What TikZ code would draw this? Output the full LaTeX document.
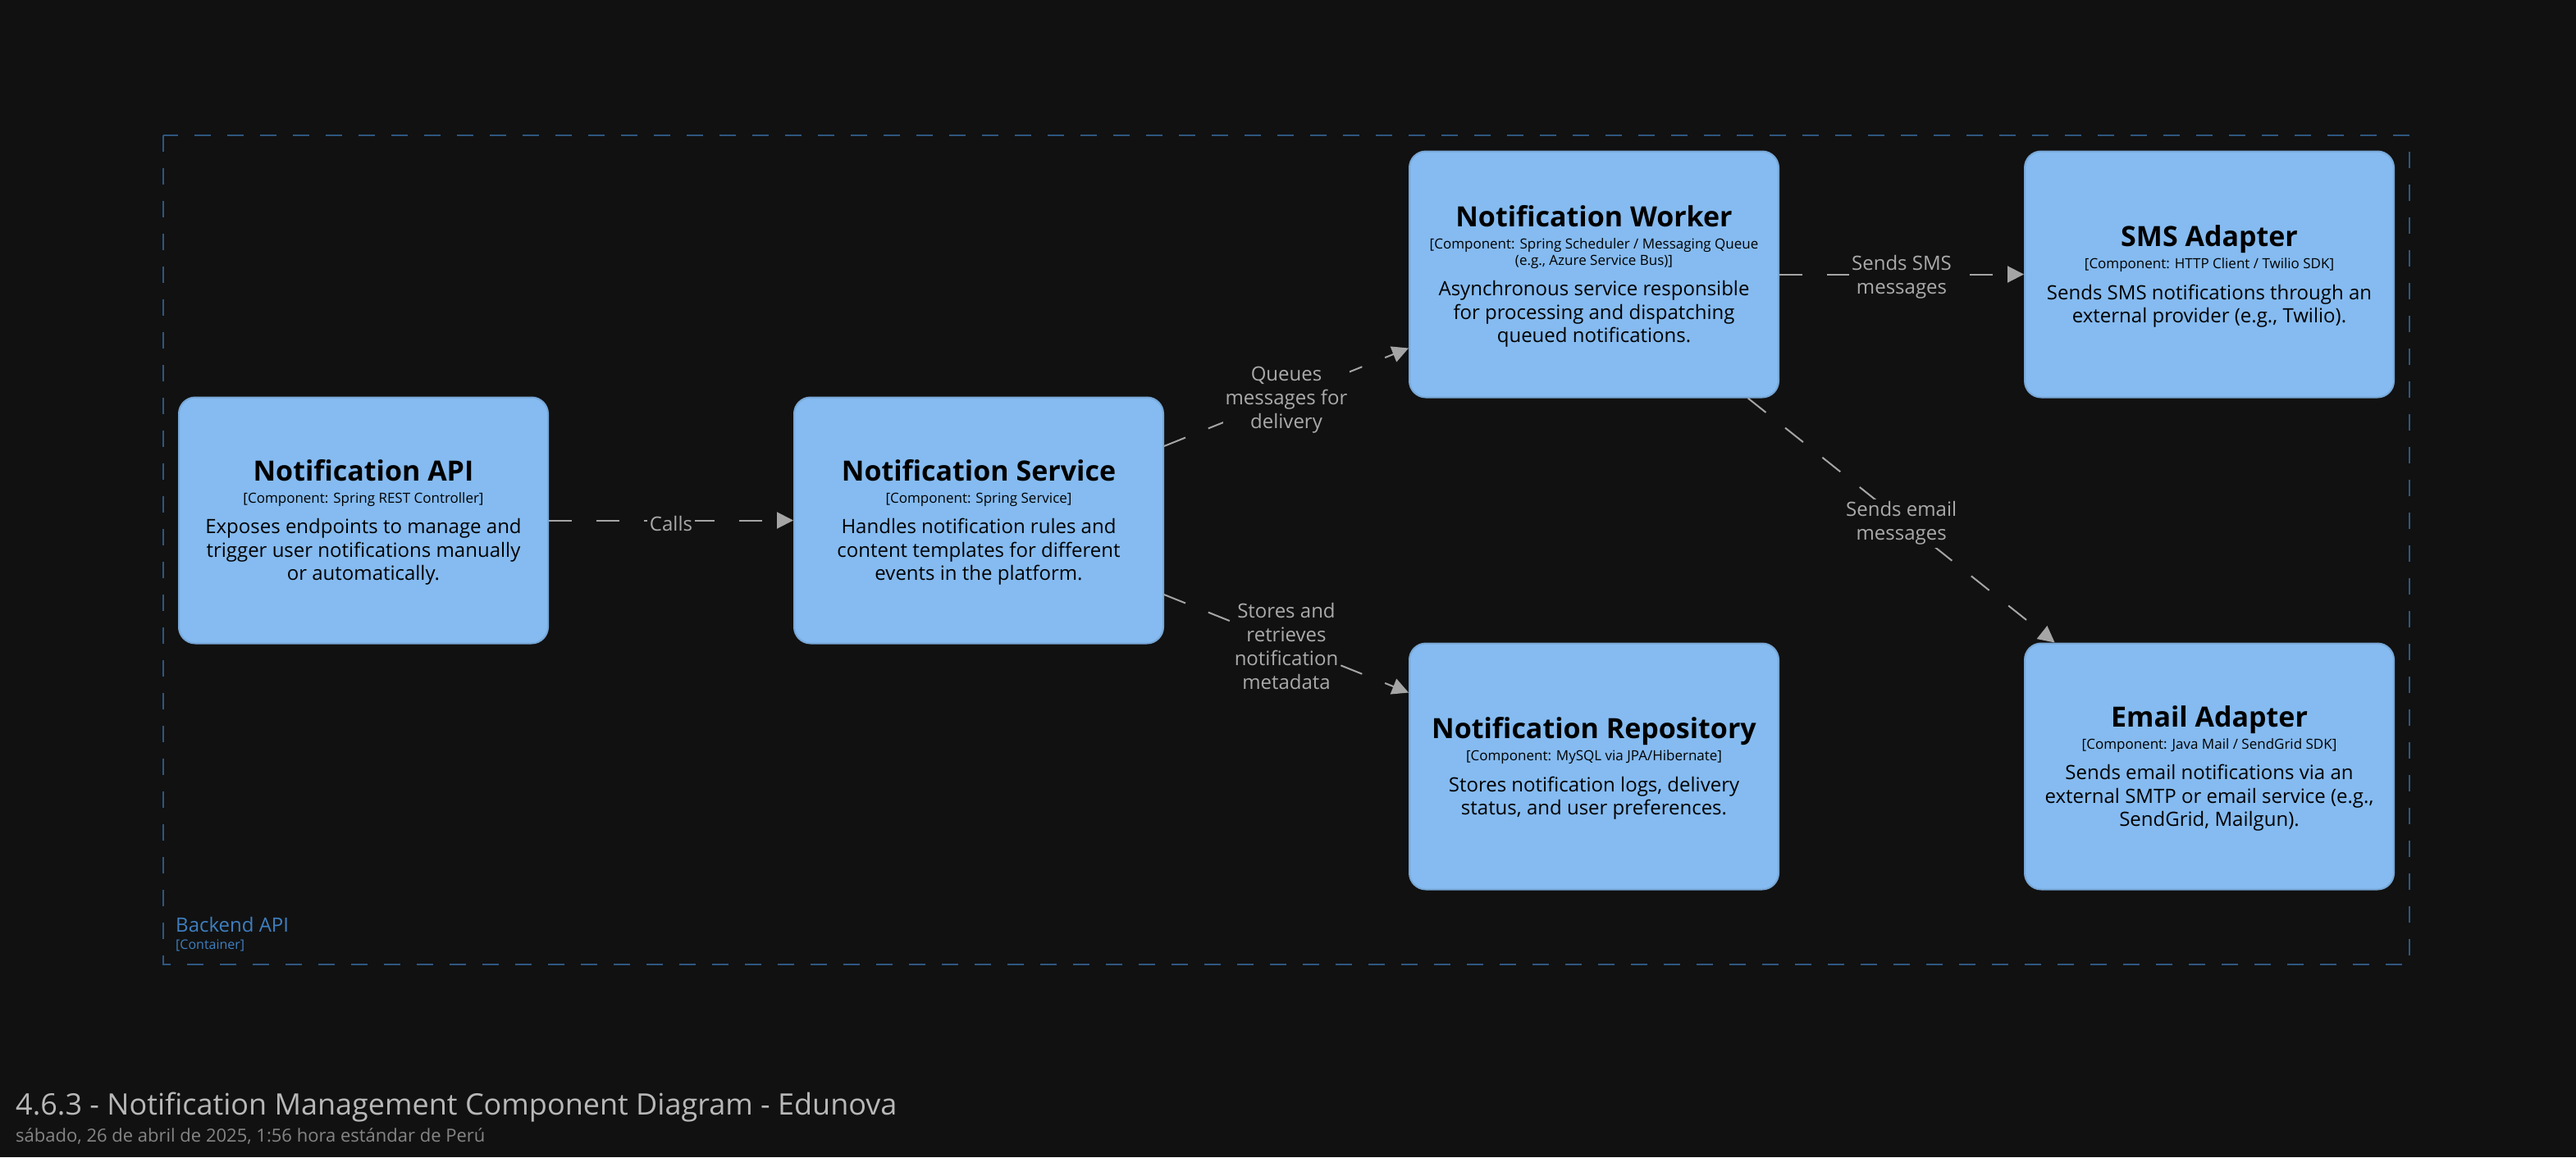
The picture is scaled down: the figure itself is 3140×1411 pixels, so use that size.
\documentclass[tikz,border=0pt]{standalone}
\usepackage{fontspec}
\setmainfont{Open Sans}
\usetikzlibrary{arrows.meta}
\definecolor{bg}{HTML}{111111}
\definecolor{boxfill}{HTML}{85BBF0}
\definecolor{boxline}{HTML}{78A8D8}
\definecolor{edgecol}{HTML}{A5A5A5}
\definecolor{edgetext}{HTML}{AAAAAA}
\definecolor{bnd}{HTML}{2E5780}
\definecolor{bndtext}{HTML}{3F7FC0}
\definecolor{titlecol}{HTML}{B8B8B8}
\definecolor{datecol}{HTML}{858585}
\begin{document}
\begin{tikzpicture}[x=1pt,y=-1pt,
 comp/.style={draw=boxline, line width=2pt, fill=boxfill, rounded corners=20pt, minimum width=450pt, minimum height=300pt, inner sep=0pt},
 ttl/.style={anchor=base, inner sep=0pt, font=\fontsize{34}{40}\selectfont\bfseries, text=black},
 techtxt/.style={anchor=base, inner sep=0pt, font=\fontsize{17}{20}\selectfont, text=black},
 dsc/.style={anchor=base, inner sep=0pt, font=\fontsize{24}{28.5}\selectfont, text=black},
 rel/.style={draw=edgecol, line width=2pt, dash pattern=on 28pt off 30pt, -{Triangle[length=20pt,width=20pt]}},
 rlab/.style={midway, yshift=-3.5pt, fill=bg, text=edgetext, align=center, inner sep=3pt, font=\fontsize{24}{29}\selectfont},
 plain/.style={anchor=base west, inner sep=0pt},
]
\fill[bg] (0,0) rectangle (3140,1411);
\useasboundingbox (0,0) rectangle (3140,1411);

% boundary
\draw[bnd, line width=2pt, dash pattern=on 20pt off 20pt] (199,165) rectangle (2937,1176);
\node[plain, text=bndtext, font=\fontsize{24}{28}\selectfont] (bndname) at (214,1136.7) {Backend API};
\node[plain, text=bndtext, font=\fontsize{16}{20}\selectfont] (bndtype) at (214,1157.7) {[Container]};

% boxes
\node[comp] (api) at (443,634.5) {};
\node[comp] (svc) at (1193,634.5) {};
\node[comp] (wrk) at (1943,334.5) {};
\node[comp] (sms) at (2693,334.5) {};
\node[comp] (repo) at (1943,934.5) {};
\node[comp] (mail) at (2693,934.5) {};

% API
\node[ttl] (api-t) at (443,586.3) {Notification API};
\node[techtxt] (api-s) at (443,613.3) {[Component: Spring REST Controller]};
\node[dsc] (api-d1) at (443,650.8) {Exposes endpoints to manage and};
\node[dsc] (api-d2) at (443,679.3) {trigger user notifications manually};
\node[dsc] (api-d3) at (443,707.8) {or automatically.};

% Service
\node[ttl] (svc-t) at (1193,586.3) {Notification Service};
\node[techtxt] (svc-s) at (1193,613.3) {[Component: Spring Service]};
\node[dsc] (svc-d1) at (1193,650.8) {Handles notification rules and};
\node[dsc] (svc-d2) at (1193,679.3) {content templates for different};
\node[dsc] (svc-d3) at (1193,707.8) {events in the platform.};

% Worker
\node[ttl] (wrk-t) at (1943,276.3) {Notification Worker};
\node[techtxt] (wrk-s1) at (1943,303.3) {[Component: Spring Scheduler / Messaging Queue};
\node[techtxt] (wrk-s2) at (1943,323.3) {(e.g., Azure Service Bus)]};
\node[dsc] (wrk-d1) at (1943,360.8) {Asynchronous service responsible};
\node[dsc] (wrk-d2) at (1943,389.3) {for processing and dispatching};
\node[dsc] (wrk-d3) at (1943,417.8) {queued notifications.};

% SMS
\node[ttl] (sms-t) at (2693,300.5) {SMS Adapter};
\node[techtxt] (sms-s) at (2693,327.5) {[Component: HTTP Client / Twilio SDK]};
\node[dsc] (sms-d1) at (2693,365) {Sends SMS notifications through an};
\node[dsc] (sms-d2) at (2693,393.5) {external provider (e.g., Twilio).};

% Repository
\node[ttl] (repo-t) at (1943,900.5) {Notification Repository};
\node[techtxt] (repo-s) at (1943,927.5) {[Component: MySQL via JPA/Hibernate]};
\node[dsc] (repo-d1) at (1943,965) {Stores notification logs, delivery};
\node[dsc] (repo-d2) at (1943,993.5) {status, and user preferences.};

% Email
\node[ttl] (mail-t) at (2693,886.3) {Email Adapter};
\node[techtxt] (mail-s) at (2693,913.3) {[Component: Java Mail / SendGrid SDK]};
\node[dsc] (mail-d1) at (2693,950.8) {Sends email notifications via an};
\node[dsc] (mail-d2) at (2693,979.3) {external SMTP or email service (e.g.,};
\node[dsc] (mail-d3) at (2693,1007.8) {SendGrid, Mailgun).};

% relationships
\draw[rel] (api) -- node[rlab] (l1) {Calls} (svc);
\draw[rel] (svc) -- node[rlab] (l2) {Queues\\messages for\\delivery} (wrk);
\draw[rel] (svc) -- node[rlab] (l3) {Stores and\\retrieves\\notification\\metadata} (repo);
\draw[rel] (wrk) -- node[rlab] (l4) {Sends SMS\\messages} (sms);
\draw[rel] (wrk) -- node[rlab] (l5) {Sends email\\messages} (mail);

% title
\node[plain, text=titlecol, font=\fontsize{36}{42}\selectfont] (title) at (19,1359) {4.6.3 - Notification Management Component Diagram - Edunova};
\node[plain, text=datecol, font=\fontsize{22}{26}\selectfont] (date) at (19,1392) {sábado, 26 de abril de 2025, 1:56 hora estándar de Perú};
\end{tikzpicture}
\end{document}
